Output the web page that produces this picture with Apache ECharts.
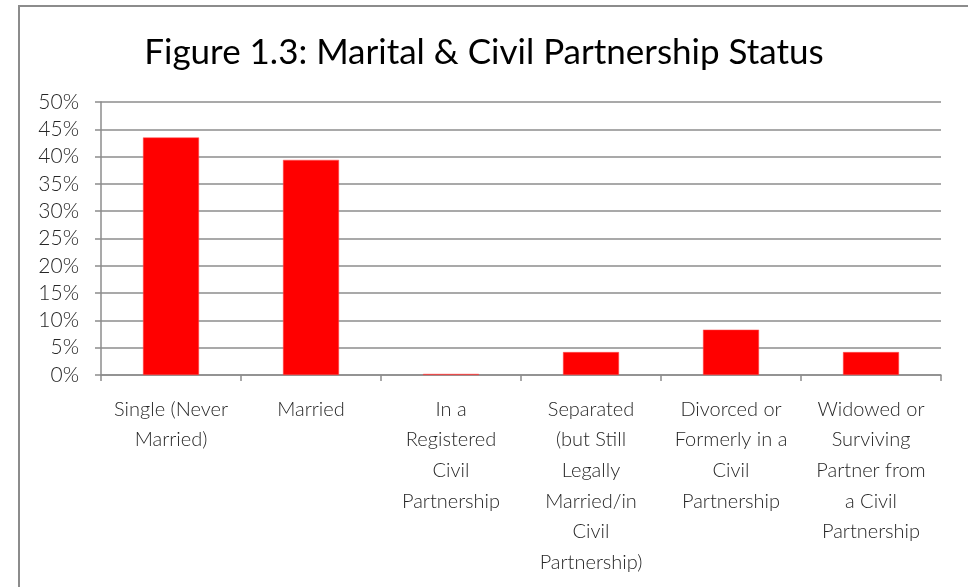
<!DOCTYPE html>
<html>
<head>
<meta charset="utf-8">
<script src="https://cdn.jsdelivr.net/npm/echarts@6/dist/echarts.min.js"></script>
<style>
  html, body { margin: 0; padding: 0; background: #fff; }
  #chart { width: 968px; height: 587px; }
</style>
</head>
<body>
<div id="chart"></div>
<script>
// 类别（x轴）
const categories = [
  'Single (Never\nMarried)',
  'Married',
  'In a\nRegistered\nCivil\nPartnership',
  'Separated\n(but Still\nLegally\nMarried/in\nCivil\nPartnership)',
  'Divorced or\nFormerly in a\nCivil\nPartnership',
  'Widowed or\nSurviving\nPartner from\na Civil\nPartnership'
];
// 百分比数值
const values = [43.5, 39.4, 0.2, 4.2, 8.3, 4.2];
const yTicks = { min: 0, max: 50, interval: 5 };

const chart = echarts.init(document.getElementById('chart'));
const font = 'Lato, "DejaVu Sans", sans-serif';

const option = {
  backgroundColor: '#fff',
  animation: false,
  title: {
    text: 'Figure 1.3: Marital & Civil Partnership Status',
    left: 'center',
    top: 30,
    textStyle: { fontFamily: font, fontSize: 35, fontWeight: 'normal', color: '#000' }
  },
  graphic: [{
    type: 'rect',
    shape: { x: 19, y: 6, width: 980, height: 620 },
    style: { fill: 'none', stroke: '#8c8c8c', lineWidth: 2 },
    silent: true
  }],
  grid: { left: 101, right: 27, top: 102, bottom: 212 },
  xAxis: {
    type: 'category',
    data: categories,
    axisLine: { lineStyle: { color: '#8c8c8c', width: 1.5 } },
    axisTick: { show: true, length: 6, lineStyle: { color: '#8c8c8c', width: 1.5 } },
    axisLabel: {
      interval: 0,
      margin: 19,
      fontFamily: font,
      fontSize: 20,
      fontWeight: 300,
      lineHeight: 30.6,
      color: '#262626',
      align: 'center'
    }
  },
  yAxis: {
    type: 'value',
    min: yTicks.min,
    max: yTicks.max,
    interval: yTicks.interval,
    axisLine: { show: true, lineStyle: { color: '#8c8c8c', width: 1.5 } },
    axisTick: { show: true, length: 6, lineStyle: { color: '#8c8c8c', width: 1.5 } },
    splitLine: { lineStyle: { color: '#8c8c8c', width: 1.5 } },
    axisLabel: {
      formatter: '{value}%',
      margin: 22,
      fontFamily: font,
      fontSize: 21,
      fontWeight: 300,
      color: '#262626'
    }
  },
  series: [{
    type: 'bar',
    data: values,
    barWidth: '40%',
    itemStyle: { color: '#ff0000', borderColor: '#ff5050', borderWidth: 0.5 }
  }]
};

chart.setOption(option);
</script>
</body>
</html>
